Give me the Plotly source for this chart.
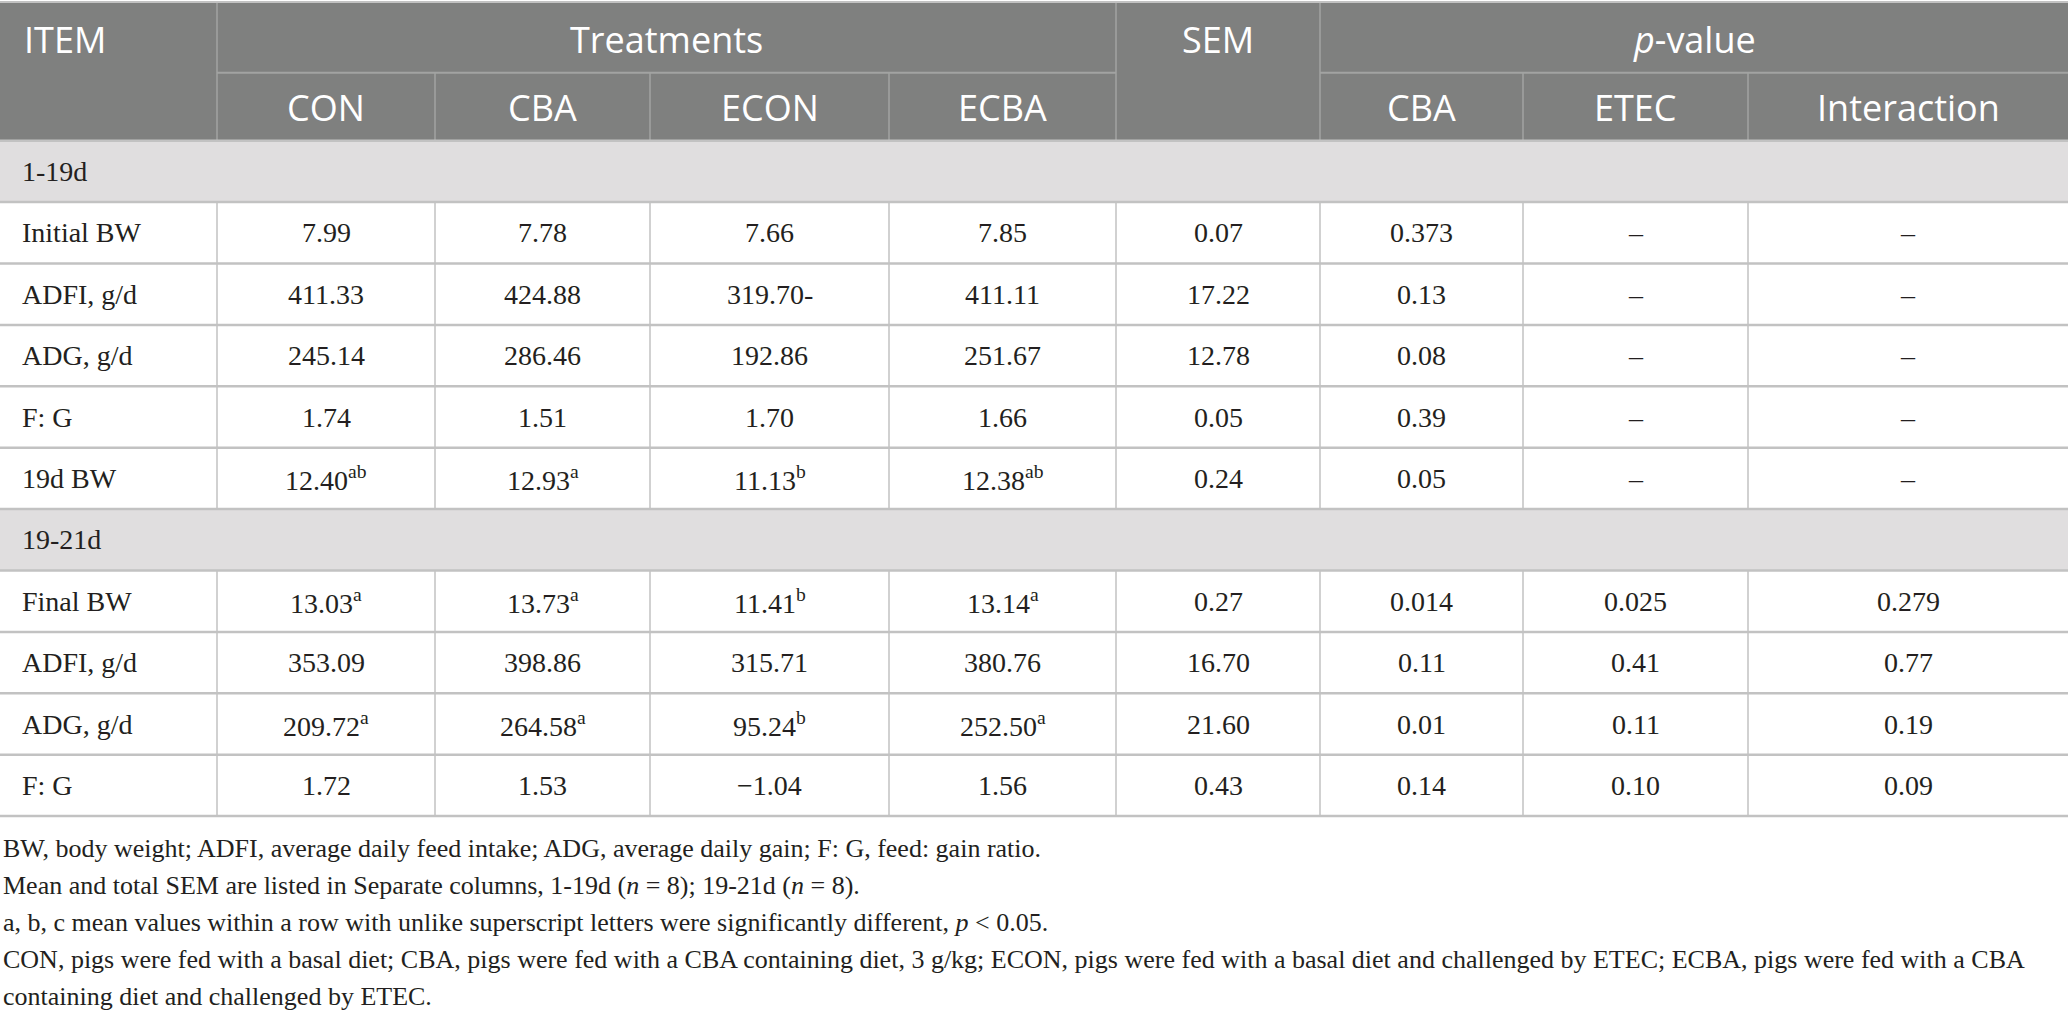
import plotly.graph_objects as go

# table data
sub_headers = ["CON", "CBA", "ECON", "ECBA", "SEM", "CBA", "ETEC", "Interaction"]
groups = ["1-19d", "19-21d"]

items_1 = ["Initial BW", "ADFI, g/d", "ADG, g/d", "F: G", "19d BW"]
con_1 = ["7.99", "411.33", "245.14", "1.74", "12.40"]
cba_1 = ["7.78", "424.88", "286.46", "1.51", "12.93"]
econ_1 = ["7.66", "319.70-", "192.86", "1.70", "11.13"]
ecba_1 = ["7.85", "411.11", "251.67", "1.66", "12.38"]
sig_1 = [["", "", "", ""], ["", "", "", ""], ["", "", "", ""],
         ["", "", "", ""], ["ab", "a", "b", "ab"]]
sem_1 = ["0.07", "17.22", "12.78", "0.05", "0.24"]
p_cba_1 = ["0.373", "0.13", "0.08", "0.39", "0.05"]
p_etec_1 = ["–", "–", "–", "–", "–"]
p_int_1 = ["–", "–", "–", "–", "–"]

items_2 = ["Final BW", "ADFI, g/d", "ADG, g/d", "F: G"]
con_2 = ["13.03", "353.09", "209.72", "1.72"]
cba_2 = ["13.73", "398.86", "264.58", "1.53"]
econ_2 = ["11.41", "315.71", "95.24", "−1.04"]
ecba_2 = ["13.14", "380.76", "252.50", "1.56"]
sig_2 = [["a", "a", "b", "a"], ["", "", "", ""],
         ["a", "a", "b", "a"], ["", "", "", ""]]
sem_2 = ["0.27", "16.70", "21.60", "0.43"]
p_cba_2 = ["0.014", "0.11", "0.01", "0.14"]
p_etec_2 = ["0.025", "0.41", "0.11", "0.10"]
p_int_2 = ["0.279", "0.77", "0.19", "0.09"]

footnotes = [
    "BW, body weight; ADFI, average daily feed intake; ADG, average daily gain; F: G, feed: gain ratio.",
    "Mean and total SEM are listed in Separate columns, 1-19d (<i>n</i> = 8); 19-21d (<i>n</i> = 8).",
    "a, b, c mean values within a row with unlike superscript letters were significantly different, <i>p</i> < 0.05.",
    "CON, pigs were fed with a basal diet; CBA, pigs were fed with a CBA containing diet, 3 g/kg; ECON, pigs were fed with a basal diet and challenged by ETEC; ECBA, pigs were fed with a CBA",
    "containing diet and challenged by ETEC.",
]

# layout
W, H = 2068, 1019
col_edges = [0, 217, 435, 650, 889, 1116, 1320, 1523, 1748, 2068]
head_top, head_mid, head_bot = 3, 72.7, 140.7
row_h = 61.4
foot_top, foot_step = 848, 37.2

HEAD_BG = "#7f807f"
HEAD_LINE = "#a2a3a2"
GROUP_BG = "#e0dedf"
GRID = "#c2c2c2"
TXT = "#231f20"
SANS = "Open Sans"
SERIF = "Liberation Serif"


def build_rows(items, cols, sig):
    out = []
    for i, item in enumerate(items):
        cells = []
        for j, col in enumerate(cols):
            v = col[i]
            if j < 4 and sig[i][j]:
                v = v + "<sup>" + sig[i][j] + "</sup>"
            cells.append(v)
        out.append((item, cells))
    return out


sections = [
    (groups[0], build_rows(items_1, [con_1, cba_1, econ_1, ecba_1, sem_1, p_cba_1, p_etec_1, p_int_1], sig_1)),
    (groups[1], build_rows(items_2, [con_2, cba_2, econ_2, ecba_2, sem_2, p_cba_2, p_etec_2, p_int_2], sig_2)),
]

shapes = []
annotations = []


def hline(y, x0, x1, color, width):
    shapes.append(dict(type="line", xref="x", yref="y", x0=x0, x1=x1, y0=y, y1=y,
                       line=dict(color=color, width=width), layer="above"))


def vline(x, y0, y1, color, width):
    shapes.append(dict(type="line", xref="x", yref="y", x0=x, x1=x, y0=y0, y1=y1,
                       line=dict(color=color, width=width), layer="above"))


def text(x, y, s, size, color, family, anchor="center"):
    annotations.append(dict(x=x, y=y, xref="x", yref="y", text=s, showarrow=False,
                            xanchor=anchor, yanchor="middle",
                            font=dict(size=size, color=color, family=family)))


mid = lambda j: (col_edges[j] + col_edges[j + 1]) / 2

# header block
shapes.append(dict(type="rect", xref="x", yref="y", x0=col_edges[0], x1=col_edges[-1],
                   y0=head_top, y1=head_bot, fillcolor=HEAD_BG, line=dict(width=0), layer="below"))
hline(head_top - 1, col_edges[0], col_edges[-1], GRID, 2)
hline(head_mid, col_edges[1], col_edges[5], HEAD_LINE, 2)
hline(head_mid, col_edges[6], col_edges[-1], HEAD_LINE, 2)
for j in [1, 5, 6]:
    vline(col_edges[j], head_top, head_bot, HEAD_LINE, 1.5)
for j in [2, 3, 4, 7, 8]:
    vline(col_edges[j], head_mid, head_bot, HEAD_LINE, 1.5)

y1_txt = (head_top + head_mid) / 2 + 2
y2_txt = (head_mid + head_bot) / 2 + 1
text(22, y1_txt, "ITEM", 36, "white", SANS, "left")
text((col_edges[1] + col_edges[5]) / 2, y1_txt, "Treatments", 36, "white", SANS)
text(mid(5), y1_txt, "SEM", 36, "white", SANS)
text((col_edges[6] + col_edges[-1]) / 2, y1_txt, "<i>p</i>-value", 36, "white", SANS)
for k, lab in enumerate(sub_headers):
    if k == 4:
        continue
    text(mid(k + 1), y2_txt, lab, 36, "white", SANS)

# body
y = head_bot
hline(y, col_edges[0], col_edges[-1], GRID, 2.5)
for gname, rows in sections:
    shapes.append(dict(type="rect", xref="x", yref="y", x0=col_edges[0], x1=col_edges[-1],
                       y0=y, y1=y + row_h, fillcolor=GROUP_BG, line=dict(width=0), layer="below"))
    text(20, y + row_h / 2, gname, 28, TXT, SERIF, "left")
    y += row_h
    hline(y, col_edges[0], col_edges[-1], GRID, 2.5)
    for item, cells in rows:
        text(20, y + row_h / 2, item, 28, TXT, SERIF, "left")
        for k, c in enumerate(cells):
            text(mid(k + 1), y + row_h / 2, c, 28, TXT, SERIF)
        for j in range(1, len(col_edges) - 1):
            vline(col_edges[j], y, y + row_h, GRID, 1.5)
        y += row_h
        hline(y, col_edges[0], col_edges[-1], GRID, 2.5)

# footnotes
for i, f in enumerate(footnotes):
    text(1, foot_top + i * foot_step, f, 26, TXT, SERIF, "left")

fig = go.Figure()
fig.update_layout(
    width=W, height=H, autosize=False,
    margin=dict(l=0, r=0, t=0, b=0),
    paper_bgcolor="white", plot_bgcolor="white",
    xaxis=dict(range=[0, W], visible=False, fixedrange=True),
    yaxis=dict(range=[H, 0], visible=False, fixedrange=True),
    shapes=shapes, annotations=annotations, showlegend=False,
)
fig.write_html("out.html", config={"displayModeBar": False},
               post_script="document.body.style.margin='0';document.body.style.overflow='hidden';")
